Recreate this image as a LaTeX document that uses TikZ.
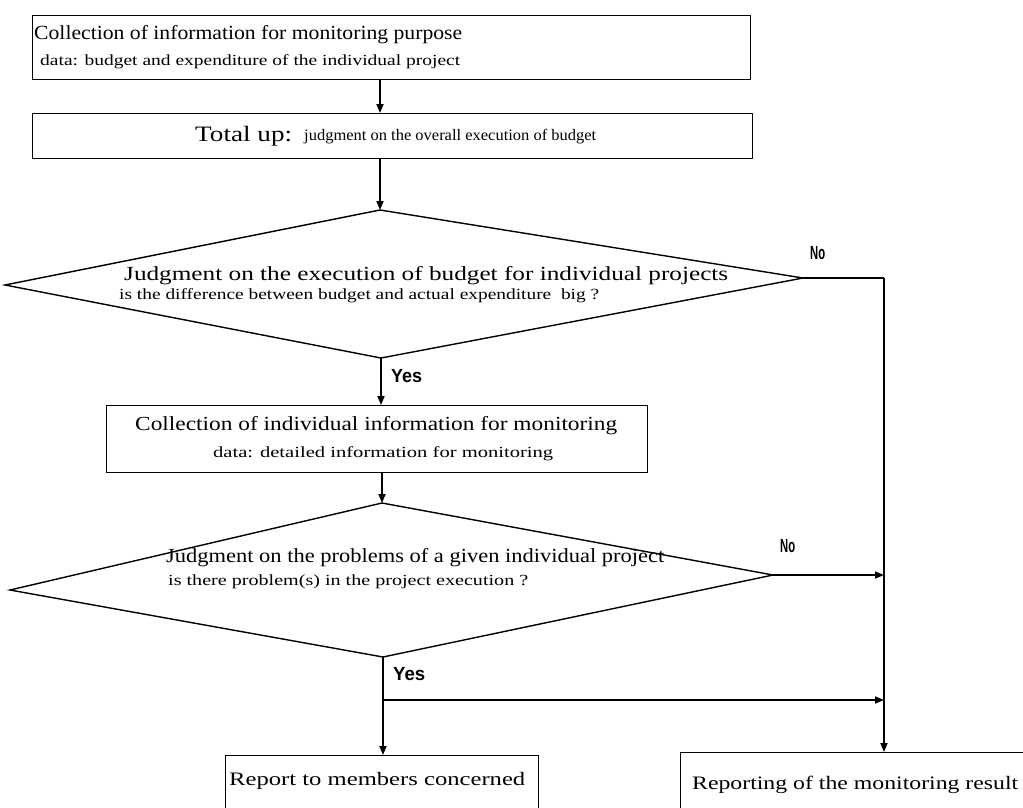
\documentclass[tikz,border=0pt]{standalone}
\usepackage{fontspec}
\setmainfont{Liberation Serif}
\newfontfamily\labelfont{Liberation Sans}
\usetikzlibrary{arrows.meta}
% stretch a line of text to a given width, keeping its height
\newcommand{\fitto}[2]{\resizebox{#1}{\height}{#2}}
\begin{document}
\begin{tikzpicture}[x=1pt,y=-1pt,
  box/.style={draw,line width=1.4pt,inner sep=0pt,anchor=north west},
  link/.style={line width=1.7pt},
  flow/.style={link,-{Triangle[length=9pt,width=7pt]}},
  decision/.style={draw,line width=1.4pt,line join=miter},
  txt/.style={inner sep=0pt,anchor=base west},
  yn/.style={inner sep=0pt,anchor=base west,font=\labelfont\bfseries\fontsize{19}{19}\selectfont},
]
\useasboundingbox (0,0) rectangle (1023,807);

% boxes
\node[box,minimum width=718pt,minimum height=64pt] (collect) at (32,15) {};
\node[box,minimum width=720pt,minimum height=45pt] (total) at (32,113) {};
\node[box,minimum width=541pt,minimum height=67pt] (indiv) at (106,405) {};
\node[box,minimum width=313pt,minimum height=80pt] (members) at (225,755) {};
\node[box,minimum width=400pt,minimum height=80pt] (report) at (680,752) {};

% box texts
\node[txt,font=\fontsize{20}{20}\selectfont] (t1) at (34,39) {\fitto{428pt}{Collection of information for monitoring purpose}};
\node[txt,font=\fontsize{15.5}{15.5}\selectfont] (t2) at (40,65) {\fitto{420pt}{data: budget and expenditure of the individual project}};
\node[txt,font=\fontsize{22}{22}\selectfont] (t3) at (195,141) {\fitto{97pt}{Total up:}};
\node[txt,font=\fontsize{16}{16}\selectfont] (t4) at (304,140) {\fitto{292pt}{judgment on the overall execution of budget}};
\node[txt,font=\fontsize{20}{20}\selectfont] (t5) at (135,430) {\fitto{482pt}{Collection of individual information for monitoring}};
\node[txt,font=\fontsize{15.5}{15.5}\selectfont] (t6) at (213,457) {\fitto{340pt}{data: detailed information for monitoring}};
\node[txt,font=\fontsize{19}{19}\selectfont] (t7) at (229,785) {\fitto{296pt}{Report to members concerned}};
\node[txt,font=\fontsize{19}{19}\selectfont] (t8) at (692,789) {\fitto{326pt}{Reporting of the monitoring result}};

% decision 1
\coordinate (d1t) at (380,210);
\coordinate (d1l) at (5,285);
\coordinate (d1r) at (803,278);
\coordinate (d1b) at (381,358);
\draw[decision] (d1t) -- (d1r) -- (d1b) -- (d1l) -- cycle;
\node[txt,font=\fontsize{20}{20}\selectfont] (q1) at (124,280) {\fitto{604pt}{Judgment on the execution of budget for individual projects}};
\node[txt,font=\fontsize{15.5}{15.5}\selectfont] (q2) at (119,299) {\fitto{480pt}{is the difference between budget and actual expenditure\ \ big ?}};

% decision 2
\coordinate (d2t) at (382,503);
\coordinate (d2l) at (10,590);
\coordinate (d2r) at (773,575);
\coordinate (d2b) at (383,657);
\draw[decision] (d2t) -- (d2r) -- (d2b) -- (d2l) -- cycle;
\node[txt,font=\fontsize{20}{20}\selectfont] (q3) at (166,562) {\fitto{498pt}{Judgment on the problems of a given individual project}};
\node[txt,font=\fontsize{15.5}{15.5}\selectfont] (q4) at (168,585) {\fitto{360pt}{is there problem(s) in the project execution ?}};

% right-hand collector line
\coordinate (rc1) at (884,278);
\coordinate (rc2) at (884,575);
\coordinate (rc3) at (884,700);
\coordinate (yb) at (383,700);

% connectors
\draw[flow] (collect.south -| 380,0) -- (total.north -| 380,0);
\draw[flow] (total.south -| 380,0) -- (d1t);
\draw[flow] (d1b) -- (indiv.north -| d1b);
\draw[flow] (indiv.south -| d2t) -- (d2t);
\draw[link] (d1r) -- (rc1);
\draw[flow] (rc1) -- (report.north -| rc1);
\draw[flow] (d2r) -- (rc2);
\draw[flow] (d2b) -- (members.north -| d2b);
\draw[flow] (yb) -- (rc3);

% branch labels
\node[yn] (no1) at (810,259) {\fitto{15pt}{No}};
\node[yn] (yes1) at (391,382) {\fitto{31pt}{Yes}};
\node[yn] (no2) at (780,552) {\fitto{15pt}{No}};
\node[yn] (yes2) at (393,680) {\fitto{32pt}{Yes}};
\end{tikzpicture}
\end{document}
